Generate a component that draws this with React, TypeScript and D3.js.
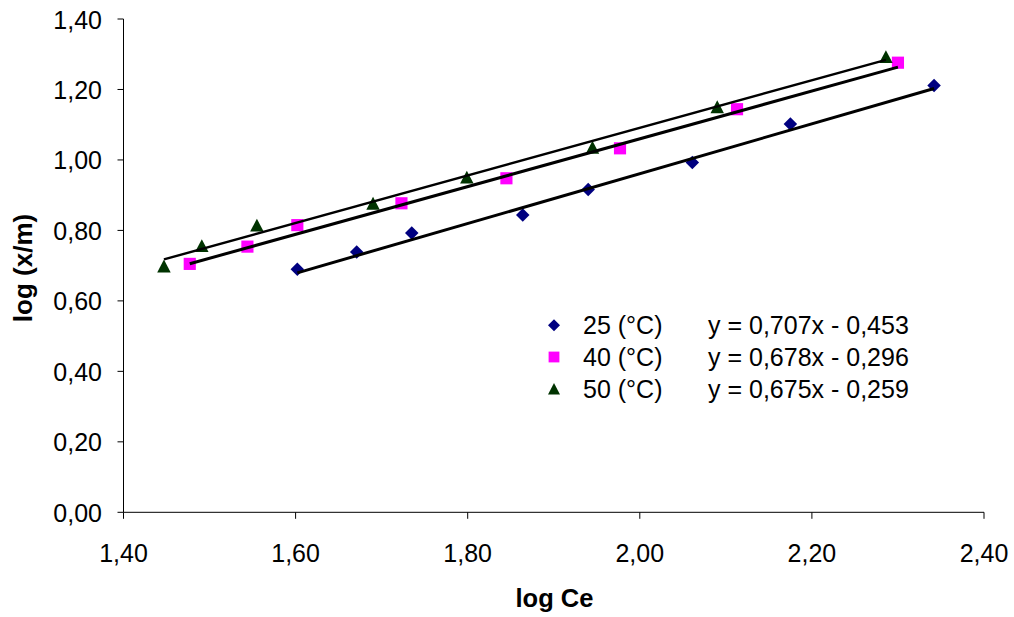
import React from "react";
import * as d3 from "d3";

const xTicks = [1.4, 1.6, 1.8, 2.0, 2.2, 2.4];
const yTicks = [0, 0.2, 0.4, 0.6, 0.8, 1.0, 1.2, 1.4];

const seriesNames = ["25 (°C)", "40 (°C)", "50 (°C)"];
const equations = ["y = 0,707x - 0,453", "y = 0,678x - 0,296", "y = 0,675x - 0,259"];
const slopes = [0.707, 0.678, 0.675];
const intercepts = [-0.453, -0.296, -0.259];

const x25 = [1.602, 1.671, 1.735, 1.864, 1.94, 2.061, 2.175, 2.342];
const y25 = [0.69, 0.739, 0.793, 0.844, 0.916, 0.993, 1.102, 1.211];
const x40 = [1.477, 1.544, 1.602, 1.723, 1.845, 1.977, 2.113, 2.3];
const y40 = [0.705, 0.754, 0.815, 0.877, 0.948, 1.033, 1.144, 1.276];
const x50 = [1.447, 1.491, 1.555, 1.69, 1.799, 1.945, 2.09, 2.286];
const y50 = [0.699, 0.757, 0.815, 0.877, 0.951, 1.036, 1.151, 1.293];

const colors = ["#000080", "#FF00FF", "#003300"];
const shapes = ["diamond", "square", "triangle"];
const lineWidths = [3, 3, 2.4];

const fmt = (v: number) => v.toFixed(2).replace(".", ",");
const FONT = "'Liberation Sans', Arial, sans-serif";

function Marker({ shape, cx, cy, size, color }: any) {
  if (shape === "diamond") {
    const r = size / 2;
    return <path d={`M${cx},${cy - r}L${cx + r},${cy}L${cx},${cy + r}L${cx - r},${cy}Z`} fill={color} />;
  }
  if (shape === "square") {
    const r = (size * 0.9) / 2;
    return <rect x={cx - r} y={cy - r} width={2 * r} height={2 * r} fill={color} />;
  }
  const w = size * 1.0;
  const h = size * 0.95;
  return (
    <path
      d={`M${cx},${cy - h / 2}L${cx + w / 2},${cy + h / 2}L${cx - w / 2},${cy + h / 2}Z`}
      fill={color}
    />
  );
}

export default function App() {
  const x = d3.scaleLinear().domain([1.4, 2.4]).range([123.5, 984]);
  const y = d3.scaleLinear().domain([0, 1.4]).range([512.3, 19]);
  const xs = [x25, x40, x50];
  const ys = [y25, y40, y50];

  return (
    <svg
      width={1014}
      height={617}
      style={{ position: "absolute", left: 0, top: 0, background: "#fff" }}
      fontFamily={FONT}
    >
      <line x1={x(1.4)} x2={x(2.4)} y1={y(0)} y2={y(0)} stroke="#000" strokeWidth={1} />
      <line x1={x(1.4)} x2={x(1.4)} y1={y(0)} y2={y(1.4)} stroke="#000" strokeWidth={1} />
      {xTicks.map((t) => (
        <g key={"xt" + t}>
          <line x1={x(t)} x2={x(t)} y1={y(0)} y2={y(0) + 6.5} stroke="#000" />
          <text x={x(t)} y={562} textAnchor="middle" fontSize={25} fill="#000">
            {fmt(t)}
          </text>
        </g>
      ))}
      {yTicks.map((t) => (
        <g key={"yt" + t}>
          <line x1={x(1.4) - 6} x2={x(1.4)} y1={y(t)} y2={y(t)} stroke="#000" />
          <text x={102} y={y(t) + 9.5} textAnchor="end" fontSize={25} fill="#000">
            {fmt(t)}
          </text>
        </g>
      ))}
      <text x={554.5} y={607} textAnchor="middle" fontSize={25.5} fontWeight="bold" fill="#000">
        log Ce
      </text>
      <text
        transform={`translate(32,268) rotate(-90)`}
        textAnchor="middle"
        fontSize={26}
        fontWeight="bold"
        fill="#000"
      >
        log (x/m)
      </text>

      {xs.map((xa, s) =>
        xa.map((xv, i) => (
          <Marker key={s + "-" + i} shape={shapes[s]} cx={x(xv)} cy={y(ys[s][i])} size={13.5} color={colors[s]} />
        ))
      )}

      {xs.map((xa, s) => {
        const x0 = d3.min(xa) as number;
        const x1 = d3.max(xa) as number;
        return (
          <line
            key={"tl" + s}
            x1={x(x0)}
            y1={y(slopes[s] * x0 + intercepts[s])}
            x2={x(x1)}
            y2={y(slopes[s] * x1 + intercepts[s])}
            stroke="#000"
            strokeWidth={lineWidths[s]}
          />
        );
      })}

      {seriesNames.map((n, i) => {
        const base = 334.3 + i * 31.7;
        return (
          <g key={"lg" + i}>
            <Marker shape={shapes[i]} cx={554} cy={base - 9} size={12} color={colors[i]} />
            <text x={583} y={base} fontSize={25} fill="#000">
              {n}
            </text>
            <text x={708} y={base} fontSize={25} fill="#000">
              {equations[i]}
            </text>
          </g>
        );
      })}
    </svg>
  );
}
